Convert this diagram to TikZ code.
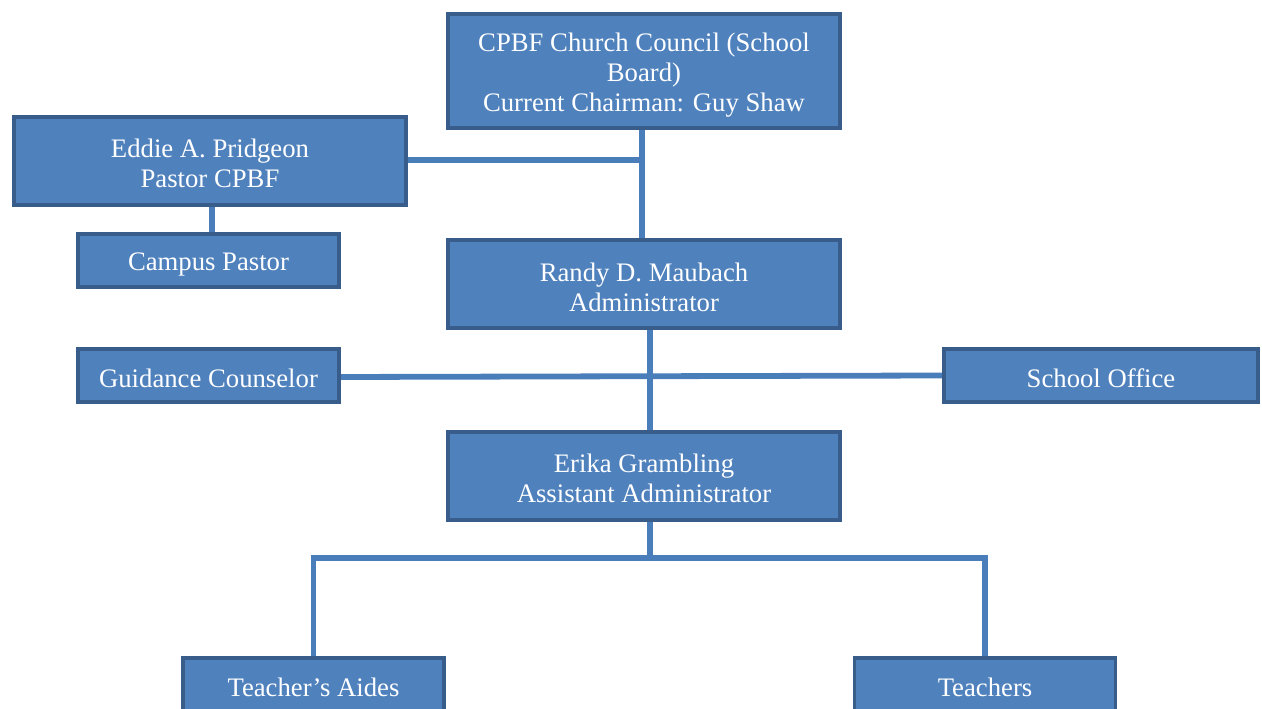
\documentclass[tikz,border=0pt]{standalone}
\usepackage{fontspec}
\setmainfont{Liberation Serif}
\usetikzlibrary{backgrounds}
\definecolor{boxfill}{RGB}{79,129,189}
\definecolor{boxline}{RGB}{56,93,138}
\definecolor{conn}{RGB}{74,126,187}
\tikzset{
  orgbox/.style={draw=boxline, fill=boxfill, line width=2.2pt, inner sep=0pt},
  bigbox/.style={orgbox, minimum width=7.84cm, minimum height=1.76cm},
  smallbox/.style={orgbox, minimum width=5.22cm, minimum height=1.06cm},
  boxtext/.style={text=white, align=center, inner sep=0pt,
    font=\fontsize{15.2}{17.2}\selectfont},
  link/.style={draw=conn, line width=3.3pt}
}
\begin{document}
\begin{tikzpicture}[x=0.02cm,y=-0.02cm]
\useasboundingbox (0,0) rectangle (1262,709);
\clip (0,0) rectangle (1262,709);
\node[bigbox, minimum height=2.28cm] (council) at (644,71) {};
\node[bigbox] (eddie) at (210,161) {};
\node[smallbox] (campus) at (208.5,260.5) {};
\node[bigbox] (randy) at (644,284) {};
\node[smallbox] (guidance) at (208.5,375.5) {};
\node[smallbox, minimum width=6.28cm] (office) at (1101,375.5) {};
\node[bigbox] (erika) at (644,476) {};
\node[smallbox] (aides) at (313.5,684.5) {};
\node[smallbox] (teachers) at (985,684.5) {};
\node[boxtext] (councilt) at ([yshift=-0.08cm]council.center) {CPBF Church Council (School\\Board)\\Current Chairman: Guy Shaw};
\node[boxtext] (eddiet) at ([yshift=-0.04cm]eddie.center) {Eddie A. Pridgeon\\Pastor CPBF};
\node[boxtext] (campust) at ([yshift=-0.09cm]campus.center) {Campus Pastor};
\node[boxtext] (randyt) at ([yshift=-0.06cm]randy.center) {Randy D. Maubach\\Administrator};
\node[boxtext] (guidancet) at ([yshift=-0.05cm]guidance.center) {Guidance Counselor};
\node[boxtext] (officet) at ([yshift=-0.05cm]office.center) {School Office};
\node[boxtext] (erikat) at ([yshift=-0.04cm]erika.center) {Erika Grambling\\Assistant Administrator};
\node[boxtext] (aidest) at ([yshift=-0.05cm]aides.center) {Teacher’s Aides};
\node[boxtext] (teacherst) at ([yshift=-0.05cm]teachers.center) {Teachers};
\coordinate (split) at (650,558);
\begin{scope}[on background layer]
\draw[link] ([xshift=-0.04cm]council.south) -- ([xshift=-0.04cm]randy.north);
\draw[link] ([yshift=0.02cm]eddie.east) -- ([yshift=0.02cm]eddie.east -| council.south);
\draw[link] ([xshift=0.04cm]eddie.south) -- ([xshift=0.04cm]eddie.south |- campus.north);
\draw[link] ([xshift=0.12cm]randy.south) -- ([xshift=0.12cm]erika.north);
\draw[link] ([yshift=-0.03cm]guidance.east) -- (office.west);
\draw[link] ([xshift=0.12cm]erika.south) -- (split);
\draw[link] (aides.north) -- (aides.north |- split) -- (teachers.north |- split) -- (teachers.north);
\end{scope}
\end{tikzpicture}
\end{document}
